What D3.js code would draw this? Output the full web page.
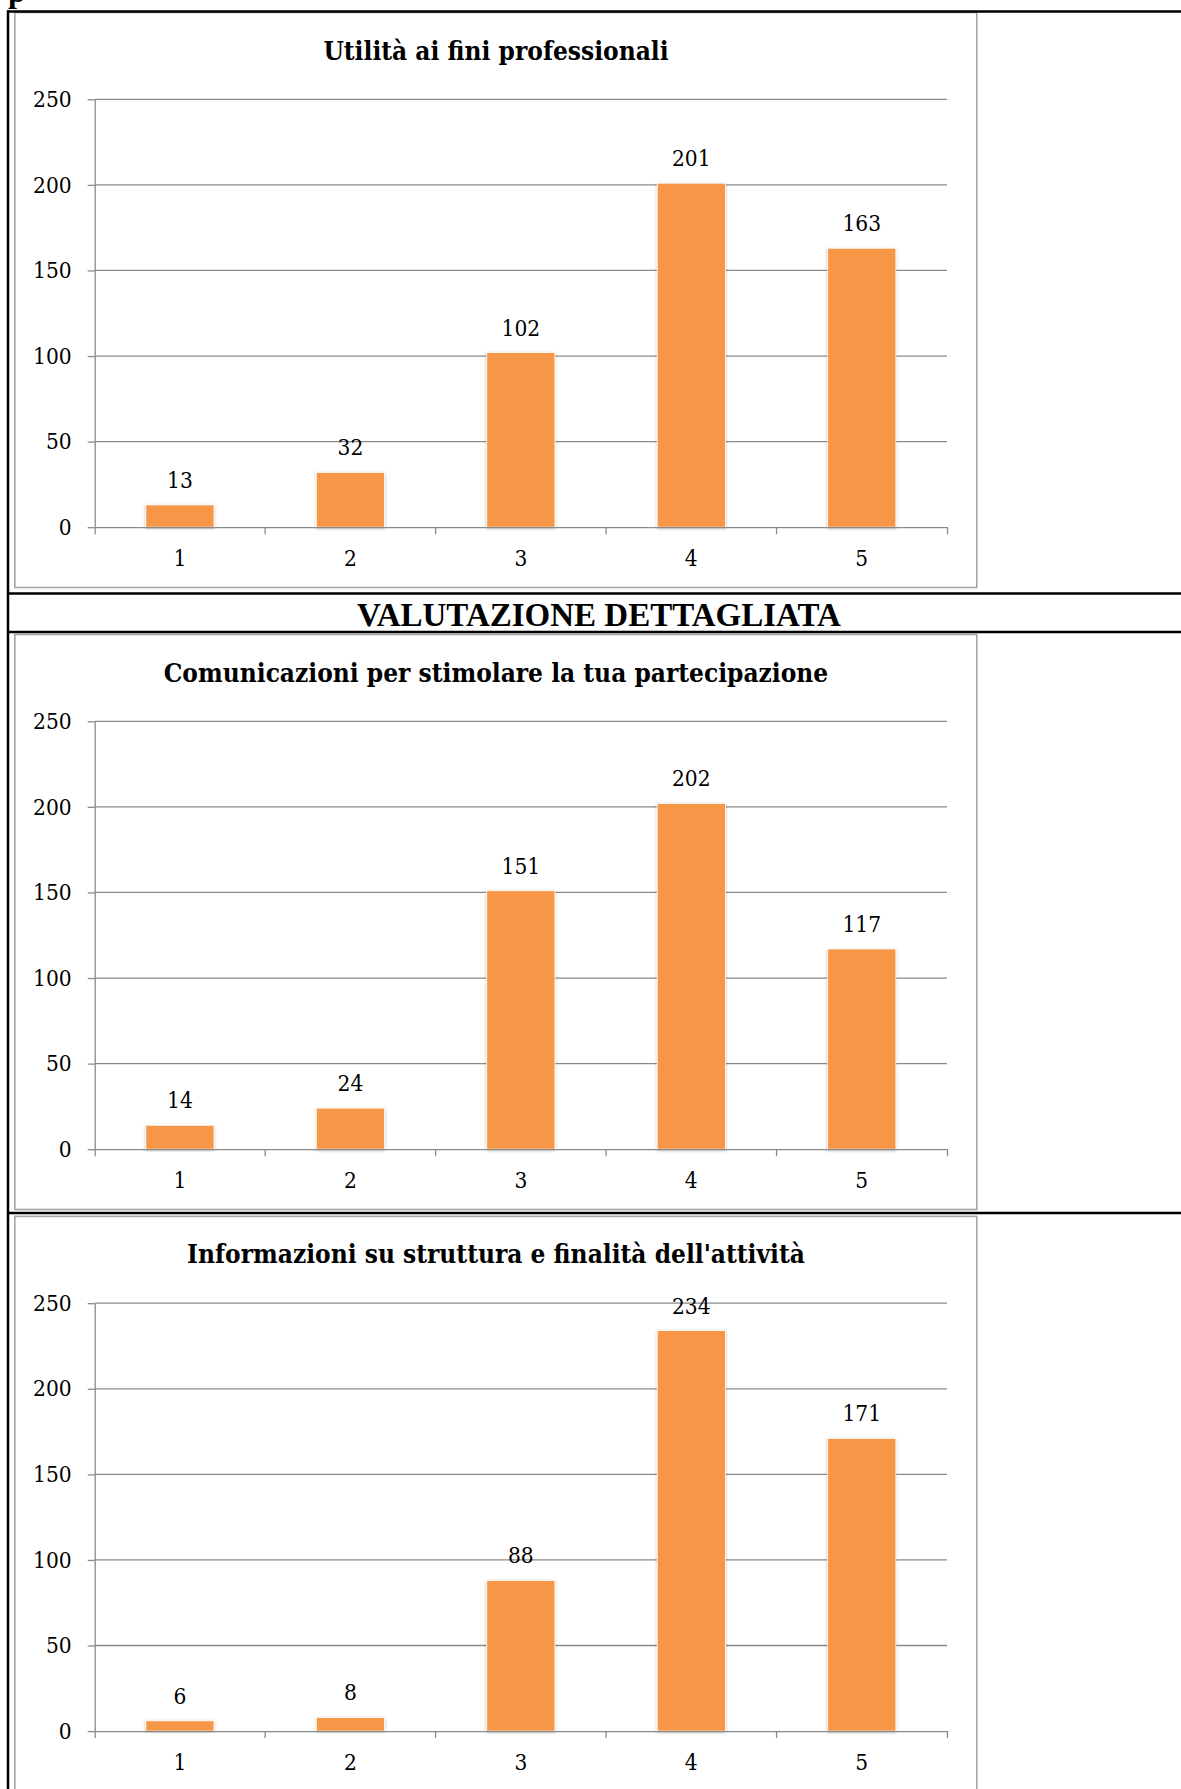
<!DOCTYPE html>
<html>
<head>
<meta charset="utf-8">
<script src="https://cdn.jsdelivr.net/npm/d3@7"></script>
<style>
  html, body { margin: 0; padding: 0; background: #fff; }
  svg { display: block; }
</style>
</head>
<body>
<svg id="page" width="1181" height="1789"></svg>
<script>
// data
var categories = ['1', '2', '3', '4', '5'];
var yTicks = [0, 50, 100, 150, 200, 250];
var utilitaValues = [13, 32, 102, 201, 163];
var comunicazioniValues = [14, 24, 151, 202, 117];
var informazioniValues = [6, 8, 88, 234, 171];
var chartTitles = [
  'Utilità ai fini professionali',
  'Comunicazioni per stimolare la tua partecipazione',
  "Informazioni su struttura e finalità dell'attività"
];
var sectionTitle = 'VALUTAZIONE DETTAGLIATA';

var W = 1181, H = 1789;
var SERIF = '"DejaVu Serif Condensed", "DejaVu Serif", serif';
var TIMES = '"Liberation Serif", "Times New Roman", serif';
var BAR = '#f79646';
var GRID = '#8a8a8a';
var NUM_SIZE = 22.5;

var svg = d3.select('#page');

var defs = svg.append('defs');
var shadow = defs.append('filter').attr('id', 'barShadow')
  .attr('x', '-20%').attr('y', '-10%').attr('width', '140%').attr('height', '120%');
shadow.append('feDropShadow')
  .attr('dx', 0).attr('dy', 1).attr('stdDeviation', 1.6)
  .attr('flood-color', '#000').attr('flood-opacity', 0.28);

svg.append('rect').attr('width', W).attr('height', H).attr('fill', '#fff');

// cropped heading glyph at the very top (cut off in the reference too)
svg.append('text')
  .attr('x', 8).attr('y', 2)
  .attr('font-family', TIMES).attr('font-weight', 'bold').attr('font-size', 32)
  .text('p');

function drawChart(top, title, values) {
  var g = svg.append('g').attr('transform', 'translate(0,' + top + ')');

  g.append('rect')
    .attr('x', 14.8).attr('y', 0).attr('width', 962).attr('height', 575)
    .attr('fill', '#fff').attr('stroke', '#a6a6a6').attr('stroke-width', 1.6);

  g.append('text')
    .attr('x', 496).attr('y', 47)
    .attr('text-anchor', 'middle')
    .attr('font-family', SERIF).attr('font-weight', 'bold').attr('font-size', 26)
    .attr('fill', '#000')
    .text(title);

  var x = d3.scaleBand().domain(categories).range([94.7, 947])
    .paddingInner(0.6).paddingOuter(0.3);
  var y = d3.scaleLinear().domain([0, 250]).range([514.7, 86.8]);

  // gridlines
  g.append('g').selectAll('line').data(yTicks.filter(function(t) { return t > 0; }))
    .enter().append('line')
    .attr('x1', 94.7).attr('x2', 947)
    .attr('y1', function(d) { return y(d); }).attr('y2', function(d) { return y(d); })
    .attr('stroke', GRID).attr('stroke-width', 1.3);

  // y axis
  var yAxis = g.append('g').attr('transform', 'translate(94.7,0)')
    .call(d3.axisLeft(y).tickValues(yTicks).tickSize(7).tickSizeOuter(0).tickPadding(16));
  yAxis.selectAll('path, line').attr('stroke', GRID).attr('stroke-width', 1.3);
  yAxis.selectAll('text').attr('font-family', SERIF).attr('font-size', NUM_SIZE).attr('fill', '#000');

  // bars
  g.append('g').selectAll('rect').data(values).enter().append('rect')
    .attr('x', function(d, i) { return x(categories[i]); })
    .attr('y', function(d) { return y(d); })
    .attr('width', x.bandwidth())
    .attr('height', function(d) { return y(0) - y(d); })
    .attr('fill', BAR)
    .attr('stroke', '#fff').attr('stroke-width', 0.8)
    .attr('filter', 'url(#barShadow)');

  // x axis
  var xAxis = g.append('g').attr('transform', 'translate(0,' + y(0) + ')')
    .call(d3.axisBottom(x).tickSize(0).tickSizeOuter(7).tickPadding(23));
  xAxis.selectAll('path').attr('stroke', GRID).attr('stroke-width', 1.3);
  xAxis.selectAll('text').attr('font-family', SERIF).attr('font-size', NUM_SIZE).attr('fill', '#000');
  var step = x.step();
  xAxis.selectAll('.edge').data(categories.slice(1)).enter().append('line')
    .attr('class', 'edge')
    .attr('x1', function(d) { return x(d) - step * x.paddingInner() / 2; })
    .attr('x2', function(d) { return x(d) - step * x.paddingInner() / 2; })
    .attr('y1', 0).attr('y2', 7)
    .attr('stroke', GRID).attr('stroke-width', 1.3);

  // value labels
  g.append('g').selectAll('text').data(values).enter().append('text')
    .attr('x', function(d, i) { return x(categories[i]) + x.bandwidth() / 2; })
    .attr('y', function(d) { return y(d) - 17; })
    .attr('text-anchor', 'middle')
    .attr('font-family', SERIF).attr('font-size', NUM_SIZE).attr('fill', '#000')
    .text(function(d) { return d; });
}

drawChart(12.5, chartTitles[0], utilitaValues);
drawChart(634.5, chartTitles[1], comunicazioniValues);
drawChart(1216.4, chartTitles[2], informazioniValues);

// section heading row
svg.append('text')
  .attr('x', 599).attr('y', 626)
  .attr('text-anchor', 'middle')
  .attr('font-family', TIMES).attr('font-weight', 'bold').attr('font-size', 33)
  .text(sectionTitle);

// table rules
var rules = svg.append('g').attr('stroke', '#000').attr('stroke-width', 2.5);
[11.4, 593.4, 632, 1213].forEach(function(yy) {
  rules.append('line').attr('x1', 7).attr('x2', W).attr('y1', yy).attr('y2', yy);
});
rules.append('line').attr('x1', 8).attr('x2', 8).attr('y1', 10.2).attr('y2', H);
</script>
</body>
</html>
